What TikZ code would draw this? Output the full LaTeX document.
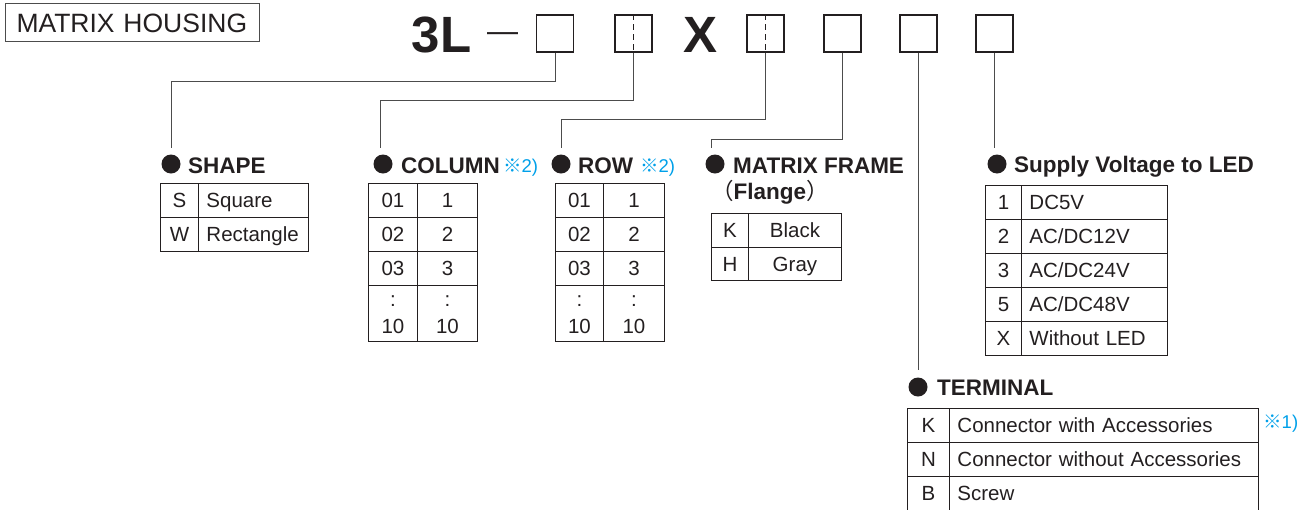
\documentclass[tikz,border=0pt]{standalone}
\usepackage{fontspec}
\setmainfont{Liberation Sans}
\newfontfamily\cjk{Noto Sans CJK JP}
\usetikzlibrary{positioning}
\definecolor{inkgray}{HTML}{231F20}
\definecolor{notecyan}{HTML}{00A0E9}
\newcommand\tabfont{\fontsize{20.5}{24}\selectfont}
\newcommand\headfont{\fontsize{22.5}{26}\selectfont\bfseries}

\begin{document}
\begin{tikzpicture}[x=1pt, y=-1pt, inkgray,
  codebox/.style={draw=inkgray, line width=1.1pt, minimum width=37pt, minimum height=37pt, inner sep=0pt},
  codetext/.style={anchor=base west, inner sep=0pt, font=\fontsize{51}{51}\selectfont\bfseries},
  headdot/.style={circle, fill=inkgray, minimum size=19pt, inner sep=0pt},
  headtext/.style={anchor=base west, inner sep=0pt, font=\headfont},
  notetext/.style={anchor=base west, inner sep=0pt, text=notecyan, font=\fontsize{18.5}{20}\selectfont},
  cell/.style={draw=inkgray, line width=0.9pt, anchor=north west, inner sep=0pt,
               minimum height=34pt, text height=14.7pt, text depth=0pt, font=\tabfont},
  ccell/.style={cell, minimum width=#1},
  lcell/.style={cell, align=left, inner xsep=8pt, text width=#1},
  lead/.style={draw=black!70, line width=1pt}]
\useasboundingbox (0,0) rectangle (1306,509);

\node[draw=black!70, line width=1pt, anchor=north west, minimum height=38pt, text width=232pt,
      inner xsep=11pt, inner ysep=0pt, align=left, text height=19pt, text depth=0pt,
      font=\fontsize{26.5}{30}\selectfont] (title) at (5,3) {MATRIX HOUSING};

% model code
\node[codetext] (c3l) at (411.5,52) {3L};
\node[anchor=base west, inner sep=0pt, font=\fontsize{31}{31}\selectfont] (dash) at (487,41) {—};
\node[codebox] (b1) at (555,33.5) {};
\node[codebox] (b2) at (633.5,33.5) {};
\node[codetext] (cx) at (683,52) {X};
\node[codebox] (b3) at (765.5,33.5) {};
\node[codebox] (b4) at (842.5,33.5) {};
\node[codebox] (b5) at (918.5,33.5) {};
\node[codebox] (b6) at (994.5,33.5) {};
\draw[dash pattern=on 6pt off 4pt, line width=0.8pt] (b2.north) -- (b2.south);
\draw[dash pattern=on 6pt off 4pt, line width=0.8pt] (b3.north) -- (b3.south);

% headings
\node[headdot] (shape-dot) at (171,164) {};
\node[headtext] (shape) at (188,173) {SHAPE};
\node[headdot] (col-dot) at (383,164) {};
\node[headtext] (col) at (401,173) {COLUMN};
\node[notetext] (col-note) at (503,172) {{\cjk ※}2)};
\node[headdot] (row-dot) at (561,164) {};
\node[headtext] (row) at (578,173) {ROW};
\node[notetext] (row-note) at (640,172) {{\cjk ※}2)};
\node[headdot] (mf-dot) at (715,164) {};
\node[headtext] (mf) at (733,173) {MATRIX FRAME};
\node[headtext] (mf-sub) at (711,199) {{\mdseries\cjk （}Flange{\mdseries\cjk ）}};
\node[headdot] (sup-dot) at (997,164) {};
\node[headtext] (sup) at (1014,172) {Supply Voltage to LED};
\node[headdot] (term-dot) at (918,387) {};
\node[headtext] (term) at (937,395) {TERMINAL};
\node[notetext] (term-note) at (1263,428) {{\cjk ※}1)};

\coordinate (shape-end) at ([yshift=6pt]shape-dot.north);
\coordinate (col-end) at ([xshift=-3pt,yshift=6pt]col-dot.north);
\coordinate (row-end) at ([yshift=6pt]row-dot.north);
\coordinate (mf-end) at ([xshift=-4pt,yshift=6pt]mf-dot.north);
\coordinate (sup-end) at ([xshift=-4pt,yshift=6pt]sup-dot.north);
\coordinate (term-end) at ([yshift=7pt]term-dot.north);

\draw[lead] (b1.south) -- ++(0,29) -| (shape-end);
\draw[lead] (b2.south) -- ++(0,48) -| (col-end);
\draw[lead] (b3.south) -- ++(0,67) -| (row-end);
\draw[lead] (b4.south) -- ++(0,87) -| (mf-end);
\draw[lead] (b5.south) -- (b5.south |- term-end);
\draw[lead] (b6.south) -- (b6.south |- sup-end);

% tables
\foreach \k/\t [count=\i] in {S/Square, W/Rectangle}{
  \node[ccell=38pt] (shape-k\i) at (160,{183+34*(\i-1)}) {\k};
  \node[lcell=94pt] (shape-t\i) at (198,{183+34*(\i-1)}) {\t};
}
\foreach \a/\b [count=\i] in {01/1, 02/2, 03/3}{
  \node[ccell=49pt] (col-a\i) at (368,{183+34*(\i-1)}) {\a};
  \node[ccell=60pt] (col-b\i) at (417,{183+34*(\i-1)}) {\b};
  \node[ccell=48pt] (row-a\i) at (555,{183+34*(\i-1)}) {\a};
  \node[ccell=61pt] (row-b\i) at (603,{183+34*(\i-1)}) {\b};
}
\node[ccell=49pt, minimum height=56pt, align=center, text height=41pt, font=\fontsize{20.5}{27}\selectfont] (col-a4) at (368,285) {:\\10};
\node[ccell=60pt, minimum height=56pt, align=center, text height=41pt, font=\fontsize{20.5}{27}\selectfont] (col-b4) at (417,285) {:\\10};
\node[ccell=48pt, minimum height=56pt, align=center, text height=41pt, font=\fontsize{20.5}{27}\selectfont] (row-a4) at (555,285) {:\\10};
\node[ccell=61pt, minimum height=56pt, align=center, text height=41pt, font=\fontsize{20.5}{27}\selectfont] (row-b4) at (603,285) {:\\10};
\foreach \k/\t [count=\i] in {K/Black, H/Gray}{
  \node[ccell=37pt, minimum height=33.5pt] (mf-k\i) at (711,{213+33.5*(\i-1)}) {\k};
  \node[ccell=93pt, minimum height=33.5pt] (mf-t\i) at (748,{213+33.5*(\i-1)}) {\t};
}
\foreach \k/\t [count=\i] in {1/DC5V, 2/{AC/DC12V}, 3/{AC/DC24V}, 5/{AC/DC48V}, X/Without LED}{
  \node[ccell=36pt] (sup-k\i) at (985,{185+34*(\i-1)}) {\k};
  \node[lcell=130pt] (sup-t\i) at (1021,{185+34*(\i-1)}) {\t};
}
\foreach \k/\t [count=\i] in {K/Connector with Accessories, N/Connector without Accessories, B/Screw}{
  \node[ccell=42pt] (term-k\i) at (907,{408+34*(\i-1)}) {\k};
  \node[lcell=293pt] (term-t\i) at (949,{408+34*(\i-1)}) {\t};
}
\end{tikzpicture}
\end{document}
